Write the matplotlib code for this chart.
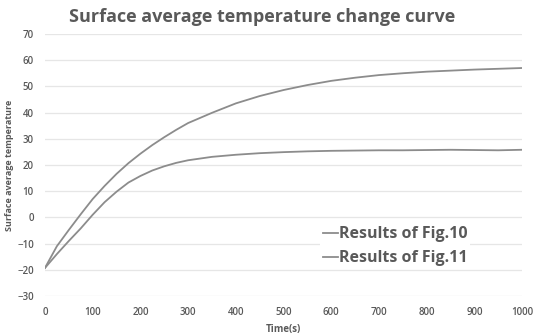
import numpy as np
import matplotlib.pyplot as plt

# ── Data ─────────────────────────────────────────────────────
time_s = [0, 25, 50, 75, 100, 125, 150, 175, 200, 225, 250, 275, 300,
          350, 400, 450, 500, 550, 600, 650, 700, 750, 800, 850, 900, 950, 1000]
fig10 = [-19.3, -11.0, -4.8, 1.2, 7.0, 12.0, 16.6, 20.7, 24.3, 27.6, 30.6, 33.4, 36.0,
         39.9, 43.5, 46.3, 48.6, 50.5, 52.1, 53.3, 54.3, 55.0, 55.6, 56.0, 56.4, 56.7, 57.0]
fig11 = [-19.3, -14.0, -9.0, -4.2, 1.0, 5.8, 9.8, 13.3, 15.8, 17.9, 19.5, 20.8, 21.8,
         23.1, 23.9, 24.5, 24.9, 25.2, 25.4, 25.5, 25.6, 25.6, 25.7, 25.8, 25.7, 25.6, 25.8]
labels = ['Results of Fig.10', 'Results of Fig.11']

x_ticks = list(range(0, 1001, 100))
y_ticks = list(range(-30, 71, 10))

# ── Style ────────────────────────────────────────────────────
plt.rcParams['font.family'] = ['Open Sans', 'DejaVu Sans']
txt = '#595959'
line_col = '#8c8c8c'

fig = plt.figure(figsize=(5.35, 3.36), dpi=100)
ax = fig.add_axes([0.084, 0.119, 0.892, 0.780])

ax.plot(time_s, fig10, color=line_col, lw=1.3, label=labels[0])
ax.plot(time_s, fig11, color=line_col, lw=1.3, label=labels[1])

ax.set_xlim(0, 1000)
ax.set_ylim(-30, 70)
ax.set_xticks(x_ticks)
ax.set_yticks(y_ticks)
ax.grid(axis='y', color='#e6e6e6', lw=0.9)
ax.set_axisbelow(True)
for s in ax.spines.values():
    s.set_visible(False)
ax.tick_params(length=0, labelsize=7, colors=txt, pad=8)
for lab in ax.get_xticklabels() + ax.get_yticklabels():
    lab.set_fontweight('semibold')

ax.set_xlabel('Time(s)', fontsize=7, fontweight='bold', color=txt, labelpad=4)
ax.set_ylabel('Surface average temperature', fontsize=6.5, fontweight='bold',
              color=txt, labelpad=2)

fig.text(262 / 535, 1 - 17 / 336, 'Surface average temperature change curve',
         ha='center', va='center', fontsize=13, fontweight='bold', color=txt)

leg = ax.legend(loc='center left', bbox_to_anchor=(0.56, 0.19), frameon=True,
                facecolor='white', edgecolor='none', framealpha=1,
                handlelength=0.9, handletextpad=0.05, labelspacing=0.5,
                borderpad=0.2, prop={'size': 11.5, 'weight': 'bold'})
for t in leg.get_texts():
    t.set_color(txt)

fig.savefig('out.png', dpi=100, facecolor='white')
